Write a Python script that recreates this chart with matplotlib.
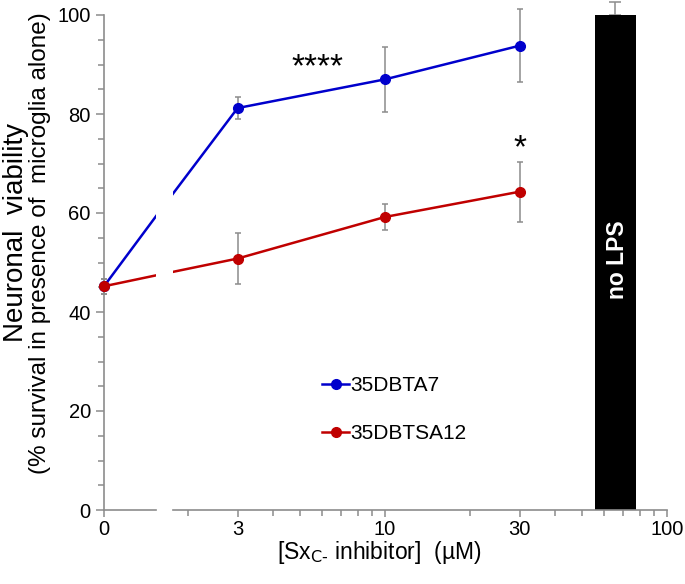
import numpy as np
import matplotlib
matplotlib.use("Agg")
import matplotlib.pyplot as plt
from matplotlib.lines import Line2D
from matplotlib.ticker import FixedLocator, MultipleLocator, NullFormatter

plt.rcParams['font.family'] = ['Liberation Sans', 'DejaVu Sans']
plt.rcParams['mathtext.default'] = 'regular'

# concentrations (uM), 0 = no inhibitor
conc = np.array([0, 3, 10, 30])
dbta7 = [45.2, 81.2, 87.0, 93.8]
dbta7_err = [1.5, 2.3, 6.5, 7.4]
dbtsa12 = [45.2, 50.8, 59.2, 64.3]
dbtsa12_err = [1.5, 5.2, 2.7, 6.1]
nolps = 100.0
nolps_err = 2.6
x_ticks = [3, 10, 30, 100]

grey = '#8c8c8c'
blue = '#0000cc'
red = '#c00000'

# 0 is drawn where 1 would sit on the log axis (broken axis)
xpos = np.where(conc == 0, 1, conc)

fig = plt.figure(figsize=(6.85, 5.84), dpi=100)
ax1 = fig.add_axes([104/685, 74/584, 52/685, 495/584])
ax2 = fig.add_axes([173/685, 74/584, 494/685, 495/584], sharey=ax1)

series = [(dbta7, dbta7_err, blue), (dbtsa12, dbtsa12_err, red)]

for ax in (ax1, ax2):
    ax.set_xscale('log')
    for side in ('top', 'right'):
        ax.spines[side].set_visible(False)
    for side in ('left', 'bottom'):
        ax.spines[side].set_color(grey)
        ax.spines[side].set_linewidth(1.2)
    ax.tick_params(which='both', color=grey, labelsize=14.5, width=1.1)
    ax.tick_params(which='major', length=5)
    ax.tick_params(which='minor', length=4)
    ax.tick_params(axis='x', pad=2.5)

ax1.set_xlim(1, 1.54)
ax2.set_xlim(1.77, 100)
ax1.set_ylim(0, 100)

# lines are clipped by each axes -> gap at the break
for vals, err, col in series:
    for ax in (ax1, ax2):
        ax.plot(xpos, vals, color=col, lw=1.8, zorder=3)
    # point at 0 sits on the left spine
    ax1.errorbar(xpos[:1], vals[:1], yerr=err[:1], fmt='o', color=col, ms=7,
                 ecolor=grey, elinewidth=1.1, capsize=2.5, capthick=1.1,
                 clip_on=False, zorder=4)
    ax2.errorbar(xpos[1:], vals[1:], yerr=err[1:], fmt='o', color=col, ms=7,
                 ecolor=grey, elinewidth=1.1, capsize=2.5, capthick=1.1,
                 clip_on=False, zorder=4)

ax1.yaxis.set_major_locator(MultipleLocator(20))
ax1.yaxis.set_minor_locator(MultipleLocator(5))
ax1.tick_params(axis='y', which='major', length=6)

ax1.xaxis.set_major_locator(FixedLocator([1]))
ax1.set_xticklabels(['0'])
ax1.xaxis.set_minor_locator(FixedLocator([]))

ax2.spines['left'].set_visible(False)
ax2.tick_params(axis='y', which='both', left=False, labelleft=False)
ax2.xaxis.set_major_locator(FixedLocator(x_ticks))
ax2.set_xticklabels([str(t) for t in x_ticks])
ax2.xaxis.set_minor_locator(FixedLocator([2, 4, 5, 6, 7, 8, 9, 20, 40, 50, 60, 70, 80, 90]))
ax2.xaxis.set_minor_formatter(NullFormatter())

# no LPS control bar
ax2.bar(55.5, nolps, width=22.1, align='edge', color='black', zorder=2)
ax2.errorbar(65.5, nolps, yerr=[[0], [nolps_err]], color=grey, elinewidth=1.1,
             capsize=4, capthick=1.1, clip_on=False, zorder=1)
ax2.text(66.5, 50.5, 'no LPS', color='white', rotation=90, fontsize=16.5,
         fontweight='bold', ha='center', va='center')

ax2.text(5.75, 89.3, '****', fontsize=24, ha='center', va='center')
ax2.text(30, 73, '*', fontsize=24, ha='center', va='center')

handles = [Line2D([], [], color=blue, lw=1.8, marker='o', ms=7),
           Line2D([], [], color=red, lw=1.8, marker='o', ms=7)]
ax2.legend(handles, ['35DBTA7', '35DBTSA12'], loc='center left',
           bbox_to_anchor=(0.302, 0.203), frameon=False, fontsize=15,
           handlelength=1.3, handletextpad=0.05, labelspacing=1.4,
           borderpad=0, borderaxespad=0)

fig.text(16/685, 1 - 232/584, 'Neuronal  viability', rotation=90, fontsize=20,
         ha='center', va='center')
fig.text(40/685, 1 - 243/584, '(% survival in presence of  microglia alone)', rotation=90,
         fontsize=17.5, ha='center', va='center')
fig.text(379/685, 1 - 552/584, r'[Sx$_{\text{C-}}$ inhibitor]  (µM)', fontsize=16.5,
         ha='center', va='center')

fig.savefig('out.png', dpi=100)
